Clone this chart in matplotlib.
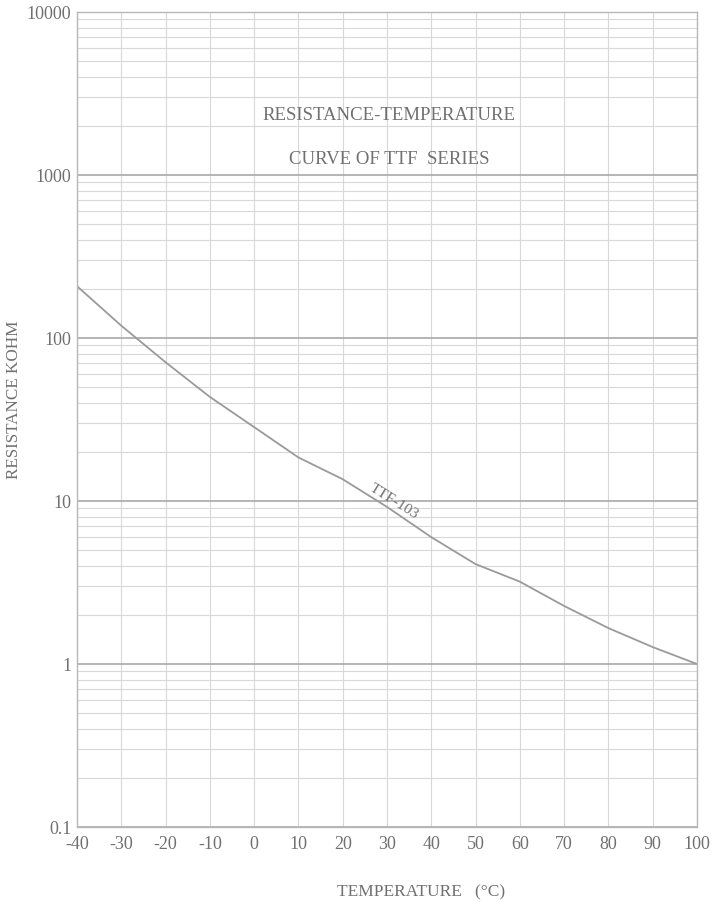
import numpy as np
import matplotlib
matplotlib.use("Agg")
from matplotlib import pyplot as plt
from matplotlib.ticker import FixedLocator, LogLocator, NullFormatter

# curve TTF-103
temp_c = [-40, -30, -20, -10, 0, 10, 20, 30, 40, 50, 60, 70, 80, 90, 100]
r_kohm = [208, 119, 71, 43.5, 28.4, 18.5, 13.6, 9.2, 6.0, 4.1, 3.2, 2.27, 1.66, 1.27, 1.0]

x_ticks = list(range(-40, 101, 10))
y_ticks = [0.1, 1, 10, 100, 1000, 10000]
y_ticklabels = ["0.1", "1", "10", "100", "1000", "10000"]

plt.rcParams["font.family"] = ["Liberation Serif", "DejaVu Serif"]
txt = "#707070"

fig = plt.figure(figsize=(7.18, 9.03), dpi=100)
ax = fig.add_axes([77/718, 1 - 828/903, 620/718, 815/903])

ax.plot(temp_c, r_kohm, color="#9a9a9a", lw=1.3)
ax.set_yscale("log")
ax.set_xlim(-40, 100)
ax.set_ylim(0.1, 10000)

ax.xaxis.set_major_locator(FixedLocator(x_ticks))
ax.set_xticklabels([str(t) for t in x_ticks])
ax.yaxis.set_major_locator(FixedLocator(y_ticks))
ax.set_yticklabels(y_ticklabels)
ax.yaxis.set_minor_locator(LogLocator(base=10, subs=np.arange(2, 10)))
ax.yaxis.set_minor_formatter(NullFormatter())

ax.grid(True, which="major", axis="y", color="#a8a8a8", lw=1.2)
ax.grid(True, which="minor", axis="y", color="#d8d8d8", lw=0.8)
ax.grid(True, which="major", axis="x", color="#d8d8d8", lw=0.8)
ax.tick_params(which="both", length=0, labelsize=13, colors=txt)
ax.tick_params(axis="x", pad=6)
ax.tick_params(axis="y", pad=4)
for s in ax.spines.values():
    s.set_color("#b8b8b8")
    s.set_linewidth(1.0)

ax.set_ylabel("RESISTANCE KOHM", fontsize=12.3, color=txt)
ax.yaxis.set_label_coords(-0.089, 0.526)
ax.set_xlabel("TEMPERATURE   (\u00b0C)", fontsize=12.5, color=txt)
ax.xaxis.set_label_coords(0.555, -0.069)

ax.text(30.4, 10 ** (4 - (116 - 13) / 163), "RESISTANCE-TEMPERATURE", fontsize=13.5,
        color=txt, ha="center", va="center")
ax.text(30.4, 10 ** (4 - (160 - 13) / 163), "CURVE OF TTF  SERIES", fontsize=13.5,
        color=txt, ha="center", va="center")
ax.text(31.5, 10.0, "TTF-103", fontsize=11, color=txt, rotation=-32,
        ha="center", va="center", rotation_mode="anchor")

fig.savefig("out.png", dpi=100, facecolor="white")
